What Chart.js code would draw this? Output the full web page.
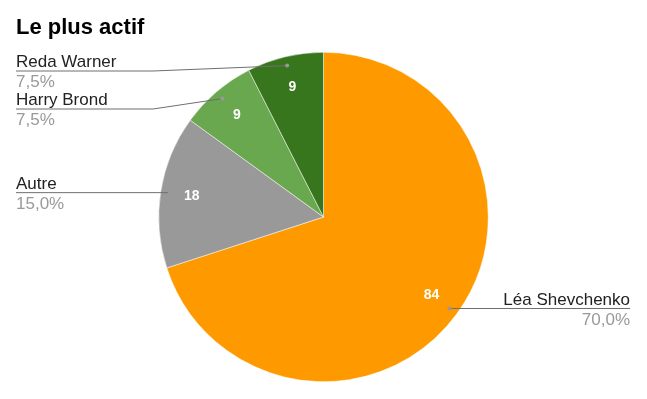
<!DOCTYPE html>
<html>
<head>
<meta charset="utf-8">
<script src="https://cdn.jsdelivr.net/npm/chart.js@4"></script>
<style>
  html, body { margin: 0; padding: 0; background: #fff; }
  #wrap { width: 647px; height: 399px; }
</style>
</head>
<body>
<div id="wrap"><canvas id="pie-chart"></canvas></div>
<script>
const chartTitle = "Le plus actif";
const names = ["Léa Shevchenko", "Autre", "Harry Brond", "Reda Warner"];
const counts = [84, 18, 9, 9];
const colors = ["#ff9900", "#999999", "#6aa84f", "#38761d"];

const FONT = "Arial, 'Liberation Sans', sans-serif";

function pct(v) {
    const total = counts.reduce((a, b) => a + b, 0);
    return (v / total * 100).toFixed(1).replace('.', ',') + '%';
}

// draws title, values inside slices and the outside labels with leader lines
const pieLabels = {
    id: 'pieLabels',
    afterDraw(chart) {
        const ctx = chart.ctx;
        const arcs = chart.getDatasetMeta(0).data;
        ctx.save();

        ctx.fillStyle = '#000';
        ctx.font = 'bold 22px ' + FONT;
        ctx.textAlign = 'left';
        ctx.textBaseline = 'alphabetic';
        ctx.fillText(chartTitle, 16, 34);

        // values inside
        ctx.font = 'bold 14px ' + FONT;
        ctx.fillStyle = '#fff';
        ctx.textAlign = 'center';
        ctx.textBaseline = 'middle';
        arcs.forEach((arc, i) => {
            const mid = (arc.startAngle + arc.endAngle) / 2;
            const r = arc.outerRadius * 0.81;
            ctx.fillText(String(counts[i]), arc.x + Math.cos(mid) * r, arc.y + Math.sin(mid) * r);
        });

        // outside labels
        const items = arcs.map((arc, i) => {
            const mid = (arc.startAngle + arc.endAngle) / 2;
            const r = arc.outerRadius * 0.945;
            return { i, x: arc.x + Math.cos(mid) * r, y: arc.y + Math.sin(mid) * r, left: Math.cos(mid) < 0 };
        });
        const left = items.filter(d => d.left).sort((a, b) => a.y - b.y);
        const right = items.filter(d => !d.left).sort((a, b) => a.y - b.y);
        let prev = 33;
        left.forEach(d => { d.ly = Math.max(d.y, prev + 38); prev = d.ly; });
        prev = 33;
        right.forEach(d => { d.ly = Math.max(d.y, prev + 38); prev = d.ly; });

        items.forEach(d => {
            const elbowX = d.left ? 153 : 493;
            const endX = d.left ? 16 : 630;
            ctx.strokeStyle = '#6f6f6f';
            ctx.lineWidth = 1;
            ctx.beginPath();
            ctx.moveTo(d.x, d.y);
            if (d.left ? d.x > elbowX : d.x < elbowX) ctx.lineTo(elbowX, d.ly);
            ctx.lineTo(endX, d.ly);
            ctx.stroke();
            ctx.fillStyle = '#999';
            ctx.beginPath();
            ctx.arc(d.x, d.y, 2, 0, Math.PI * 2);
            ctx.fill();

            ctx.textAlign = d.left ? 'left' : 'right';
            ctx.textBaseline = 'alphabetic';
            ctx.font = '17px ' + FONT;
            ctx.fillStyle = '#222';
            ctx.fillText(names[d.i], endX, d.ly - 4);
            ctx.fillStyle = '#999';
            ctx.fillText(pct(counts[d.i]), endX, d.ly + 16);
        });
        ctx.restore();
    }
};

new Chart(document.getElementById("pie-chart"), {
    type: 'pie',
    data: {
        labels: names,
        datasets: [{
            data: counts,
            backgroundColor: colors,
            borderColor: '#ffffff',
            borderWidth: 0.5
        }]
    },
    options: {
        responsive: true,
        maintainAspectRatio: false,
        animation: false,
        layout: {
            padding: { top: 52, bottom: 17, left: 0, right: 0 }
        },
        plugins: {
            legend: { display: false },
            title: { display: false },
            tooltip: { enabled: false }
        }
    },
    plugins: [pieLabels]
});
</script>
</body>
</html>
